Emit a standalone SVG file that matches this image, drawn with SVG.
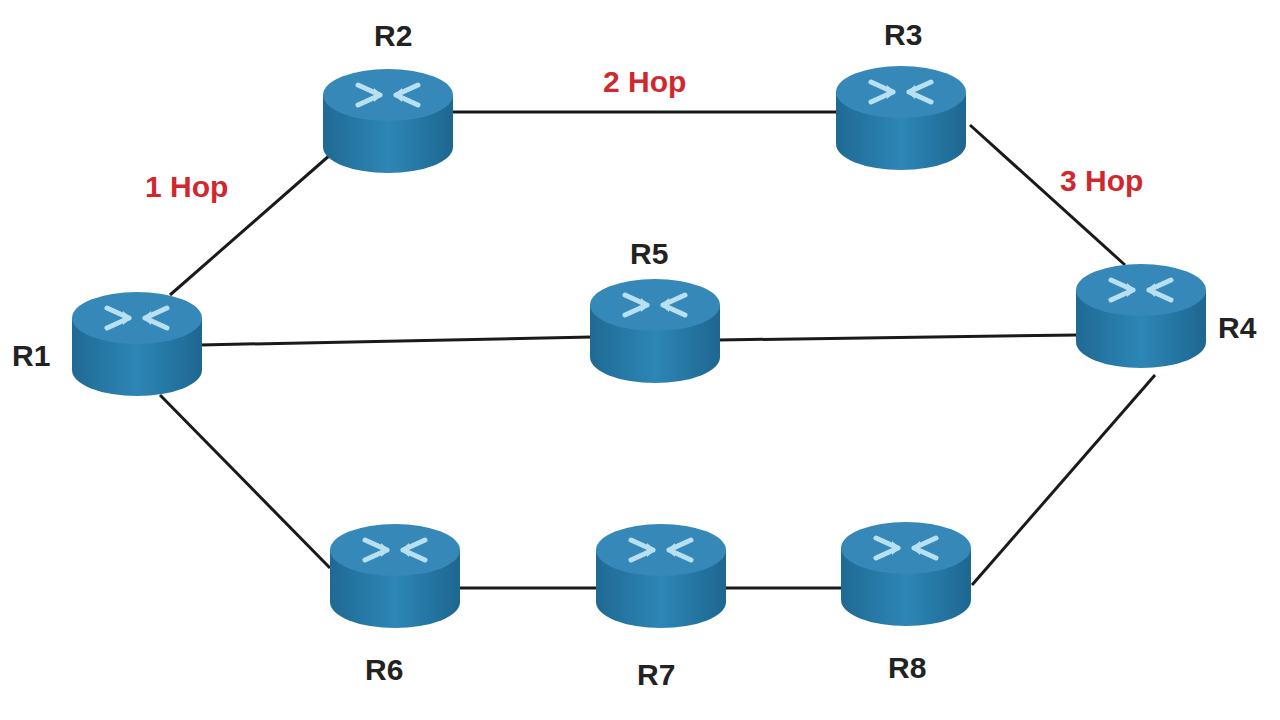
<svg xmlns="http://www.w3.org/2000/svg" width="1280" height="720" viewBox="0 0 1280 720">
<defs>
<linearGradient id="body" x1="0" x2="1" y1="0" y2="0">
<stop offset="0" stop-color="#1f6a94"/><stop offset="0.5" stop-color="#2d86b6"/><stop offset="1" stop-color="#1d6790"/>
</linearGradient>
<symbol id="router" overflow="visible">
<path d="M-65,0 V52 A65,26 0 0 0 65,52 V0 Z" fill="url(#body)"/>
<ellipse cx="0" cy="0" rx="65" ry="26" fill="#3588b8"/>
<g stroke="#b9e0f0" stroke-width="5" stroke-linecap="round" fill="none">
<path d="M-30,-10 L-8,0 M-30,10 L-8,0 M30,-10 L8,0 M30,10 L8,0"/>
</g>
<g fill="#b9e0f0"><polygon points="-6,0 -14,-7 -14,7"/><polygon points="6,0 14,-7 14,7"/></g>
</symbol>
<style>.lbl{font:bold 30px "Liberation Sans",Arial,sans-serif;fill:#222}.hop{font:bold 30px "Liberation Sans",Arial,sans-serif;fill:#d0282e}</style>
</defs>
<rect width="1280" height="720" fill="#fff"/>
<g id="connectors" stroke="#1a1a1a" stroke-width="3">
<line x1="170" y1="295" x2="330" y2="155"/>
<line x1="450" y1="112" x2="840" y2="112"/>
<line x1="970" y1="125" x2="1125" y2="265"/>
<line x1="200" y1="345" x2="592" y2="337"/>
<line x1="718" y1="340" x2="1078" y2="335"/>
<line x1="160" y1="395" x2="330" y2="568"/>
<line x1="460" y1="588" x2="598" y2="588"/>
<line x1="725" y1="588" x2="842" y2="588"/>
<line x1="972" y1="585" x2="1155" y2="375"/>
</g>
<g id="R1"><use href="#router" x="137" y="318"/><text class="lbl" x="12" y="366">R1</text></g>
<g id="R2"><use href="#router" x="388" y="95"/><text class="lbl" x="374" y="46">R2</text></g>
<g id="R3"><use href="#router" x="901" y="92"/><text class="lbl" x="884" y="45">R3</text></g>
<g id="R4"><use href="#router" x="1141" y="290"/><text class="lbl" x="1218" y="338">R4</text></g>
<g id="R5"><use href="#router" x="655" y="305"/><text class="lbl" x="630" y="264">R5</text></g>
<g id="R6"><use href="#router" x="395" y="550"/><text class="lbl" x="365" y="680">R6</text></g>
<g id="R7"><use href="#router" x="661" y="550"/><text class="lbl" x="637" y="685">R7</text></g>
<g id="R8"><use href="#router" x="906" y="548"/><text class="lbl" x="888" y="678">R8</text></g>
<text class="hop" x="145" y="197">1 Hop</text>
<text class="hop" x="603" y="92">2 Hop</text>
<text class="hop" x="1060" y="191">3 Hop</text>
</svg>
